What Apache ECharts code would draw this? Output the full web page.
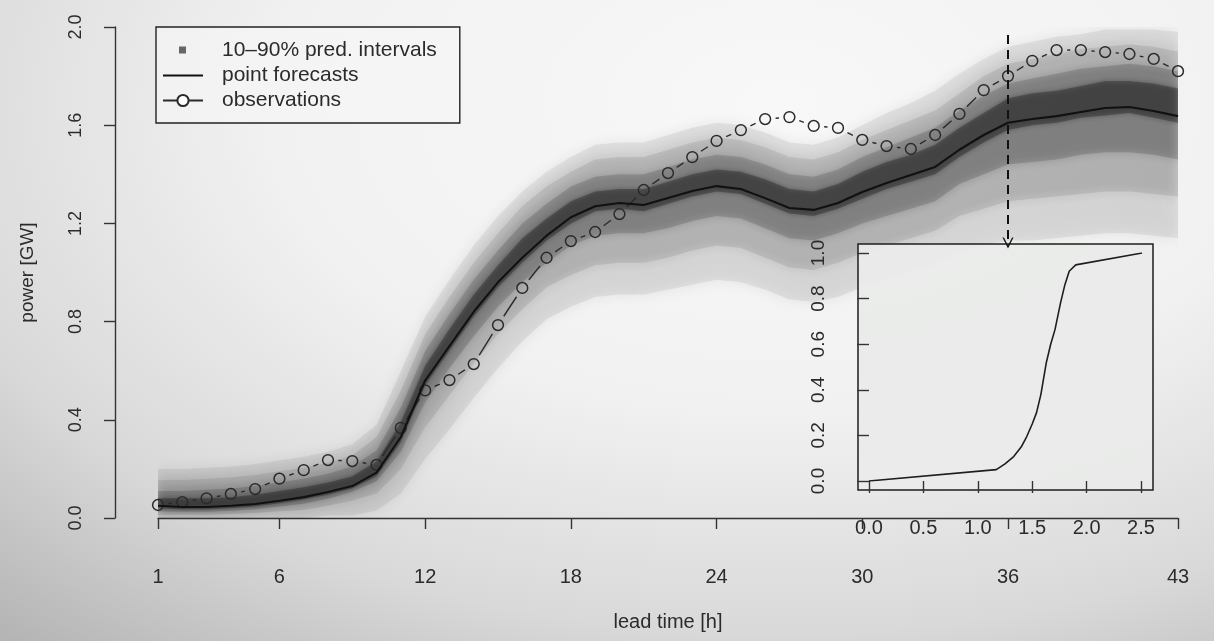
<!DOCTYPE html>
<html><head><meta charset="utf-8">
<script src="https://cdn.jsdelivr.net/npm/echarts@6/dist/echarts.min.js"></script>
<style>
html,body{margin:0;padding:0;width:1214px;height:641px;overflow:hidden;}
body{background: radial-gradient(ellipse 100% 115% at 64% 16%, #f7f8f7 0%, #f0f1f0 42%, #d8d9d8 72%, #aeafae 100%);}
#c{width:1214px;height:641px;}
</style></head><body><div id="c"></div>
<script>
// lead times (h)
const hours = ['1','2','3','4','5','6','7','8','9','10','11','12','13','14','15','16','17','18','19','20','21','22','23','24','25','26','27','28','29','30','31','32','33','34','35','36','37','38','39','40','41','42','43'];
const xTicks = [1, 6, 12, 18, 24, 30, 36, 43];
const yTicks = [0, 0.4, 0.8, 1.2, 1.6, 2.0];
// point forecasts (GW)
const forecast = [0.05,0.045,0.045,0.05,0.057,0.07,0.085,0.106,0.13,0.185,0.33,0.56,0.70,0.84,0.96,1.06,1.15,1.225,1.27,1.283,1.275,1.303,1.332,1.352,1.34,1.303,1.263,1.255,1.283,1.328,1.365,1.397,1.43,1.5,1.56,1.61,1.625,1.637,1.654,1.67,1.674,1.658,1.637];
// observations (GW)
const observations = [0.053,0.065,0.08,0.098,0.118,0.16,0.195,0.236,0.232,0.216,0.367,0.52,0.562,0.627,0.786,0.937,1.06,1.128,1.165,1.238,1.336,1.405,1.47,1.536,1.58,1.625,1.633,1.597,1.589,1.54,1.515,1.503,1.56,1.646,1.743,1.80,1.862,1.906,1.906,1.898,1.89,1.87,1.82];
// predictive quantiles (GW)
const q10 = [0.00,0.00,0.00,0.00,0.00,0.00,0.00,0.01,0.01,0.03,0.10,0.24,0.36,0.49,0.61,0.72,0.81,0.86,0.90,0.91,0.91,0.93,0.95,0.97,0.96,0.93,0.89,0.88,0.90,0.94,0.97,1.00,1.03,1.08,1.11,1.13,1.13,1.14,1.15,1.16,1.16,1.15,1.14];
const q20 = [0.013,0.013,0.013,0.016,0.02,0.027,0.033,0.05,0.07,0.10,0.20,0.37,0.50,0.63,0.75,0.85,0.94,0.99,1.03,1.04,1.04,1.06,1.09,1.11,1.10,1.06,1.02,1.01,1.04,1.08,1.11,1.14,1.17,1.23,1.26,1.29,1.30,1.31,1.32,1.33,1.33,1.32,1.31];
const q30 = [0.027,0.025,0.025,0.03,0.036,0.047,0.058,0.078,0.107,0.15,0.27,0.47,0.61,0.74,0.86,0.96,1.04,1.11,1.15,1.16,1.16,1.18,1.21,1.23,1.22,1.18,1.14,1.13,1.16,1.20,1.23,1.26,1.29,1.36,1.40,1.44,1.45,1.46,1.48,1.49,1.49,1.48,1.46];
const q40 = [0.04,0.035,0.035,0.04,0.047,0.06,0.075,0.095,0.12,0.17,0.31,0.54,0.68,0.82,0.94,1.04,1.13,1.20,1.25,1.26,1.25,1.28,1.31,1.33,1.32,1.28,1.24,1.23,1.26,1.30,1.34,1.37,1.40,1.47,1.53,1.58,1.60,1.61,1.63,1.64,1.65,1.63,1.61];
const q60 = [0.08,0.08,0.08,0.085,0.095,0.11,0.125,0.145,0.17,0.23,0.39,0.62,0.77,0.91,1.03,1.14,1.22,1.29,1.33,1.34,1.34,1.37,1.40,1.42,1.41,1.38,1.34,1.33,1.36,1.41,1.45,1.48,1.52,1.59,1.65,1.71,1.73,1.74,1.76,1.78,1.78,1.77,1.75];
const q70 = [0.11,0.11,0.115,0.12,0.13,0.145,0.16,0.18,0.21,0.275,0.45,0.68,0.83,0.97,1.09,1.20,1.28,1.35,1.39,1.40,1.40,1.43,1.46,1.48,1.47,1.44,1.40,1.39,1.42,1.47,1.51,1.55,1.59,1.66,1.72,1.77,1.79,1.81,1.83,1.84,1.85,1.84,1.82];
const q80 = [0.155,0.155,0.16,0.165,0.175,0.19,0.205,0.225,0.255,0.33,0.52,0.75,0.90,1.04,1.16,1.27,1.35,1.41,1.46,1.47,1.47,1.50,1.53,1.55,1.54,1.51,1.47,1.46,1.49,1.54,1.58,1.62,1.66,1.73,1.80,1.85,1.87,1.89,1.91,1.92,1.93,1.92,1.90];
const q90 = [0.20,0.20,0.205,0.21,0.22,0.235,0.25,0.27,0.30,0.38,0.60,0.82,0.97,1.11,1.23,1.33,1.41,1.47,1.52,1.53,1.53,1.56,1.59,1.61,1.60,1.57,1.53,1.52,1.55,1.60,1.65,1.69,1.74,1.81,1.87,1.92,1.94,1.96,1.97,1.99,1.99,1.99,1.98];
// inset: predictive CDF at lead time 36 h
const cdfX = [0, 1.17, 1.25, 1.33, 1.40, 1.45, 1.50, 1.54, 1.58, 1.63, 1.67, 1.71, 1.76, 1.80, 1.84, 1.90, 2.51];
const cdfY = [0, 0.05, 0.075, 0.107, 0.15, 0.195, 0.25, 0.30, 0.38, 0.52, 0.60, 0.665, 0.78, 0.86, 0.92, 0.948, 1.0];
const insetXTicks = [0, 0.5, 1.0, 1.5, 2.0, 2.5];
const insetYTicks = [0, 0.2, 0.4, 0.6, 0.8, 1.0];

const FONT = '"Liberation Sans", Arial, Helvetica, sans-serif';
const TXT = '#2b2b2b';
const chart = echarts.init(document.getElementById('c'), null, {renderer: 'canvas'});

// nested bands: [lower, upper, fill, blur]
const bands = [
  [q10, q90, 'rgba(18,20,20,0.07)', 14],
  [q20, q80, 'rgba(18,20,20,0.095)', 11],
  [q30, q70, 'rgba(18,20,20,0.16)', 8],
  [q40, q60, 'rgba(12,13,13,0.30)', 5]
];

const series = [
  {type: 'custom', name: '10–90% pred. intervals', data: bands.map((b, k) => [0, 0, k]), clip: true, z: 1,
   silent: true, animation: false,
   renderItem: function (params, api) {
     const b = bands[params.dataIndex];
     const lo = b[0], up = b[1];
     const pts = [];
     for (let i = 0; i < up.length; i++) pts.push(api.coord([i, up[i]]));
     for (let i = lo.length - 1; i >= 0; i--) pts.push(api.coord([i, lo[i]]));
     return {type: 'polygon', shape: {points: pts},
       style: {fill: b[2], shadowBlur: b[3], shadowColor: 'rgba(0,0,0,1)'}};
   }},
  {type: 'line', name: 'point forecasts', data: forecast, symbol: 'none', z: 3, animation: false,
   itemStyle: {color: '#111'},
   lineStyle: {color: '#111', width: 2.1},
   markLine: {silent: true, animation: false, symbol: ['none', 'path://M0,12 L6,0 L12,12 L10.5,12 L6,3.5 L1.5,12 Z'],
     symbolSize: 11, label: {show: false},
     lineStyle: {color: '#111', width: 2, type: [9, 6]},
     data: [[{coord: [35, 1.967]}, {coord: [35, 1.12]}]]}},
  {type: 'line', name: 'observations', data: [], symbol: 'emptyCircle', symbolSize: 10,
   itemStyle: {color: '#2a2a2a', borderWidth: 1.4}, lineStyle: {color: '#2a2a2a', width: 1.4}},
  {type: 'custom', name: 'obs_marks', data: observations.map((v, i) => [i, v]), encode: {x: 0, y: 1}, z: 3,
   animation: false, silent: true,
   renderItem: function (params, api) {
     const i = params.dataIndex;
     const p = api.coord([i, observations[i]]);
     const ch = [{type: 'circle', shape: {cx: p[0], cy: p[1], r: 5.4},
       style: {fill: 'none', stroke: '#2a2a2a', lineWidth: 1.5}}];
     if (i < observations.length - 1) {
       const q = api.coord([i + 1, observations[i + 1]]);
       const dx = q[0] - p[0], dy = q[1] - p[1], d = Math.hypot(dx, dy), g = 10.5;
       if (d > 2 * g + 0.5) {
         const ux = dx / d, uy = dy / d;
         ch.push({type: 'line', shape: {x1: p[0] + ux * g, y1: p[1] + uy * g, x2: q[0] - ux * g, y2: q[1] - uy * g},
           style: {stroke: '#2a2a2a', lineWidth: 1.4}});
       }
     }
     return {type: 'group', children: ch};
   }},
  {type: 'line', name: 'cdf', xAxisIndex: 1, yAxisIndex: 1, data: cdfX.map((x, i) => [x, cdfY[i]]),
   symbol: 'none', z: 8, animation: false, lineStyle: {color: '#1e1e1e', width: 1.6}}
];

const option = {
  animation: false,
  textStyle: {fontFamily: FONT, color: TXT},
  grid: [
    {left: 158, width: 1020, top: 27, height: 491, containLabel: false},
    {left: 869, width: 272, top: 253, height: 228, containLabel: false, z: 6},
    {left: 858, width: 295, top: 244, height: 246, show: true, backgroundColor: 'rgba(234,235,234,0.93)',
     borderColor: '#1e1e1e', borderWidth: 1.5, z: 5}
  ],
  xAxis: [
    {type: 'category', gridIndex: 0, data: hours, boundaryGap: false, offset: 19,
     name: 'lead time [h]', nameLocation: 'middle', nameGap: 75,
     nameTextStyle: {fontSize: 20, color: TXT, fontFamily: FONT},
     axisLine: {show: true, lineStyle: {color: '#333', width: 1.4}},
     axisTick: {show: true, length: 11, lineStyle: {color: '#333', width: 1.4},
       interval: (idx, val) => xTicks.includes(Number(val))},
     axisLabel: {fontSize: 20, color: TXT, margin: 30, fontFamily: FONT,
       interval: (idx, val) => xTicks.includes(Number(val))},
     splitLine: {show: false}},
    {type: 'value', gridIndex: 1, min: insetXTicks[0], max: insetXTicks[insetXTicks.length - 1], interval: 0.5,
     offset: 9, z: 7,
     axisLine: {show: false}, axisTick: {show: true, length: 12, lineStyle: {color: '#333', width: 1.4}},
     axisLabel: {fontSize: 20, color: TXT, margin: 28, fontFamily: FONT, formatter: v => v.toFixed(1)},
     splitLine: {show: false}},
    {type: 'value', gridIndex: 2, show: false}
  ],
  yAxis: [
    {type: 'value', gridIndex: 0, min: yTicks[0], max: yTicks[yTicks.length - 1], interval: 0.4, offset: 43,
     name: 'power [GW]', nameLocation: 'middle', nameGap: 78, nameRotate: 90,
     nameTextStyle: {fontSize: 19, color: TXT, fontFamily: FONT},
     axisLine: {show: true, lineStyle: {color: '#333', width: 1.4}},
     axisTick: {show: true, length: 11, lineStyle: {color: '#333', width: 1.4}},
     axisLabel: {fontSize: 18, color: TXT, rotate: 90, margin: 30, fontFamily: FONT, formatter: v => v.toFixed(1)},
     splitLine: {show: false}},
    {type: 'value', gridIndex: 1, min: insetYTicks[0], max: insetYTicks[insetYTicks.length - 1], interval: 0.2,
     offset: 11, z: 7,
     axisLine: {show: false}, axisTick: {show: true, length: 12, lineStyle: {color: '#333', width: 1.4}},
     axisLabel: {fontSize: 19, color: TXT, rotate: 90, margin: 30, fontFamily: FONT, formatter: v => v.toFixed(1)},
     splitLine: {show: false}},
    {type: 'value', gridIndex: 2, show: false}
  ],
  legend: {
    orient: 'vertical', left: 156, top: 27, selectedMode: false,
    borderColor: '#222', borderWidth: 1.4, backgroundColor: 'rgba(246,247,246,0.6)',
    padding: [13, 23, 12, 6], itemGap: 4, itemWidth: 40, itemHeight: 14,
    textStyle: {fontSize: 21, lineHeight: 21, color: TXT, fontFamily: FONT, padding: [0, 0, 0, 14]},
    data: [
      {name: '10–90% pred. intervals',
       icon: 'path://M0,0 L0.01,0 L0,0.01 Z M40,14 L40.01,14 L40,13.99 Z M16,3 L23,3 L23,10 L16,10 Z',
       itemStyle: {color: '#666', borderWidth: 0}},
      {name: 'point forecasts',
       icon: 'path://M0,0 L0.01,0 L0,0.01 Z M40,14 L40.01,14 L40,13.99 Z M0,5.9 L40,5.9 L40,8.1 L0,8.1 Z',
       itemStyle: {color: '#111', borderWidth: 0}},
      {name: 'observations'}
    ]
  },
  series: series
};
chart.setOption(option);
</script></body></html>
